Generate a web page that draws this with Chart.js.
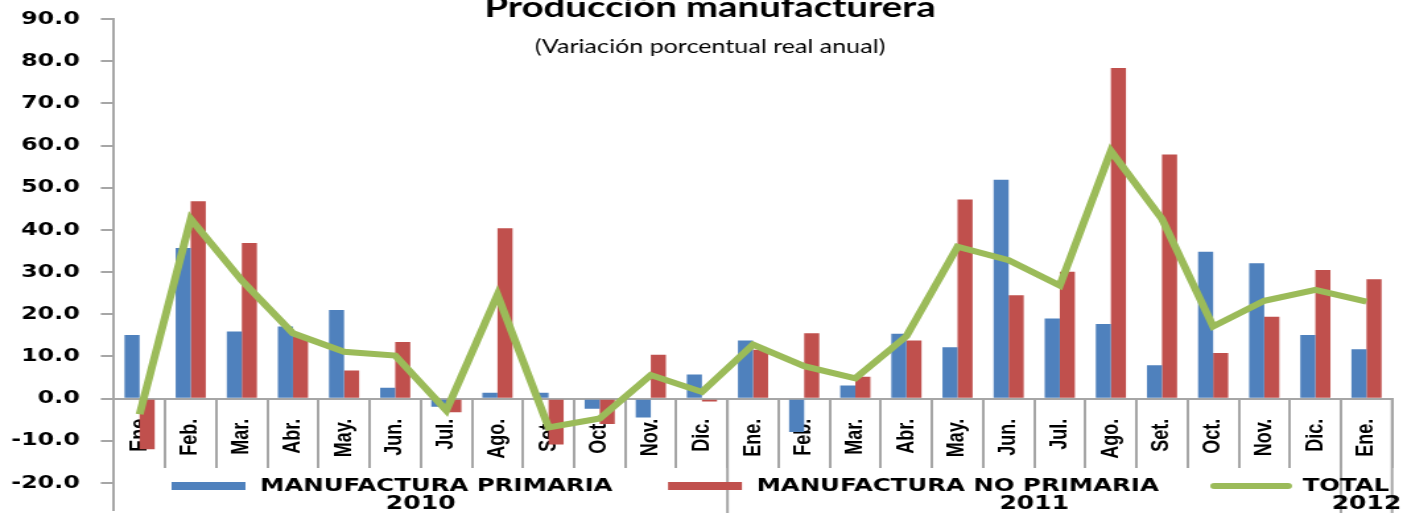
<!DOCTYPE html>
<html lang="es">
<head>
<meta charset="UTF-8">
<title>Producción manufacturera</title>
<script src="https://cdn.jsdelivr.net/npm/chart.js"></script>
<style>
  html, body { margin: 0; padding: 0; background: #fff; overflow: hidden; }
  /* the original picture is stretched sideways, so the chart is drawn narrow and widened */
  #wrap { width: 1063px; height: 513px; transform: scaleX(1.31985); transform-origin: 0 0; }
</style>
</head>
<body>
<div id="wrap"><canvas id="chart"></canvas></div>
<script>
// data
const months = ['Ene', 'Feb.', 'Mar.', 'Abr.', 'May.', 'Jun.', 'Jul.', 'Ago.', 'Set.', 'Oct.', 'Nov.', 'Dic.',
                'Ene.', 'Feb.', 'Mar.', 'Abr.', 'May.', 'Jun.', 'Jul.', 'Ago.', 'Set.', 'Oct.', 'Nov.', 'Dic.',
                'Ene.'];
const years = ['2010', '2011', '2012'];
const yearMonths = [12, 12, 1];
const primaria = [15.1, 35.7, 15.9, 17.1, 21.0, 2.6, -1.9, 1.4, 1.4, -2.4, -4.5, 5.7,
                  13.8, -7.9, 3.1, 15.4, 12.2, 51.9, 19.0, 17.7, 7.9, 34.8, 32.1, 15.1, 11.7];
const noPrimaria = [-12.0, 46.8, 36.9, 14.8, 6.7, 13.4, -3.2, 40.4, -10.9, -6.0, 10.4, -0.7,
                    11.6, 15.5, 5.2, 13.8, 47.2, 24.5, 30.1, 78.4, 57.9, 10.8, 19.4, 30.5, 28.3];
const total = [-3.7, 42.6, 28.0, 15.5, 11.1, 10.2, -2.8, 24.6, -6.8, -4.7, 5.6, 1.6,
               12.8, 7.7, 4.8, 14.8, 36.0, 32.8, 26.8, 58.7, 42.6, 17.1, 23.2, 25.8, 23.0];
const seriesNames = ['MANUFACTURA PRIMARIA', 'MANUFACTURA NO PRIMARIA', 'TOTAL'];
const titleText = 'Producción manufacturera';
const subtitleText = '(Variación porcentual real anual)';

const axisColor = '#a6a6a6';

// title, legend, year labels and year separators (Excel multi-level axis)
const decor = {
    id: 'decor',
    afterDraw(chart) {
        const ctx = chart.ctx;
        const xs = chart.scales.x;
        const ys = chart.scales.y;
        const y0 = ys.getPixelForValue(0);
        ctx.save();

        // title + subtitle
        ctx.fillStyle = '#000';
        ctx.textAlign = 'center';
        ctx.textBaseline = 'alphabetic';
        ctx.font = 'bold 29px Lato';
        ctx.fillText(titleText, 538, 17);
        ctx.font = '19px Lato';
        ctx.fillText(subtitleText, 538, 53);

        // year separators
        ctx.strokeStyle = axisColor;
        ctx.lineWidth = 2;
        let idx = 0;
        const bounds = [-0.5];
        yearMonths.forEach(n => {
            idx += n;
            const px = xs.getPixelForValue(idx - 0.5);
            bounds.push(idx - 0.5);
            ctx.beginPath();
            ctx.moveTo(px, y0);
            ctx.lineTo(px, chart.height);
            ctx.stroke();
        });

        // year labels
        ctx.font = 'bold 19px "DejaVu Sans"';
        ctx.textBaseline = 'middle';
        years.forEach((yr, i) => {
            const a = xs.getPixelForValue(bounds[i]);
            const b = xs.getPixelForValue(bounds[i + 1]);
            ctx.fillText(yr, (a + b) / 2, 504);
        });

        // legend (bars first, then the line)
        const ly = 486;
        let lx = 130;
        ctx.textAlign = 'left';
        ctx.font = 'bold 18.5px "DejaVu Sans"';
        chart.data.datasets.forEach(ds => {
            ctx.strokeStyle = ds.borderColor;
            if (ds.type === 'line') {
                ctx.lineWidth = 6;
                ctx.lineCap = 'round';
            } else {
                ctx.lineWidth = 8;
                ctx.lineCap = 'butt';
            }
            ctx.beginPath();
            ctx.moveTo(lx, ly);
            ctx.lineTo(lx + 56, ly);
            ctx.stroke();
            lx += 67;
            ctx.fillStyle = '#000';
            ctx.fillText(ds.label, lx, ly);
            lx += ctx.measureText(ds.label).width + 42;
        });
        ctx.restore();
    }
};

new Chart(document.getElementById('chart'), {
    data: {
        labels: months,
        datasets: [{
            type: 'bar',
            label: seriesNames[0],
            data: primaria,
            backgroundColor: '#4F81BD',
            borderColor: '#4F81BD',
            categoryPercentage: 0.59,
            barPercentage: 1,
            order: 1
        }, {
            type: 'bar',
            label: seriesNames[1],
            data: noPrimaria,
            backgroundColor: '#C0504D',
            borderColor: '#C0504D',
            categoryPercentage: 0.59,
            barPercentage: 1,
            order: 1
        }, {
            type: 'line',
            label: seriesNames[2],
            data: total,
            borderColor: '#9BBB59',
            backgroundColor: '#9BBB59',
            borderWidth: 6,
            pointRadius: 0,
            tension: 0,
            order: 0
        }]
    },
    options: {
        responsive: true,
        maintainAspectRatio: false,
        animation: false,
        layout: { padding: { left: 0, top: 19, right: 8.3, bottom: 0 } },
        plugins: {
            legend: { display: false },
            tooltip: { enabled: false },
            title: { display: false }
        },
        scales: {
            x: {
                position: { y: 0 },
                offset: true,
                z: 1,
                border: { color: axisColor, width: 2 },
                grid: { offset: true, drawOnChartArea: false, tickLength: 68, color: axisColor, lineWidth: 2 },
                ticks: {
                    autoSkip: false,
                    minRotation: 90,
                    maxRotation: 90,
                    padding: -48,
                    color: '#000',
                    font: { family: '"Liberation Sans", Arial', size: 18, weight: 'bold' }
                },
                afterFit(scale) {
                    scale.paddingLeft = 0;
                    scale.paddingRight = 0;
                }
            },
            y: {
                min: -26.4,
                max: 90,
                border: { color: axisColor, width: 2 },
                grid: { drawOnChartArea: false, tickLength: 10, color: axisColor, lineWidth: 2 },
                ticks: {
                    stepSize: 10,
                    includeBounds: false,
                    padding: 16,
                    color: '#000',
                    font: { family: '"DejaVu Sans"', size: 18, weight: 'bold' },
                    callback: v => v.toFixed(1)
                },
                afterFit(scale) {
                    scale.width = 86.4;
                    scale.paddingTop = 0;
                    scale.paddingBottom = 0;
                }
            }
        }
    },
    plugins: [decor]
});
</script>
</body>
</html>
